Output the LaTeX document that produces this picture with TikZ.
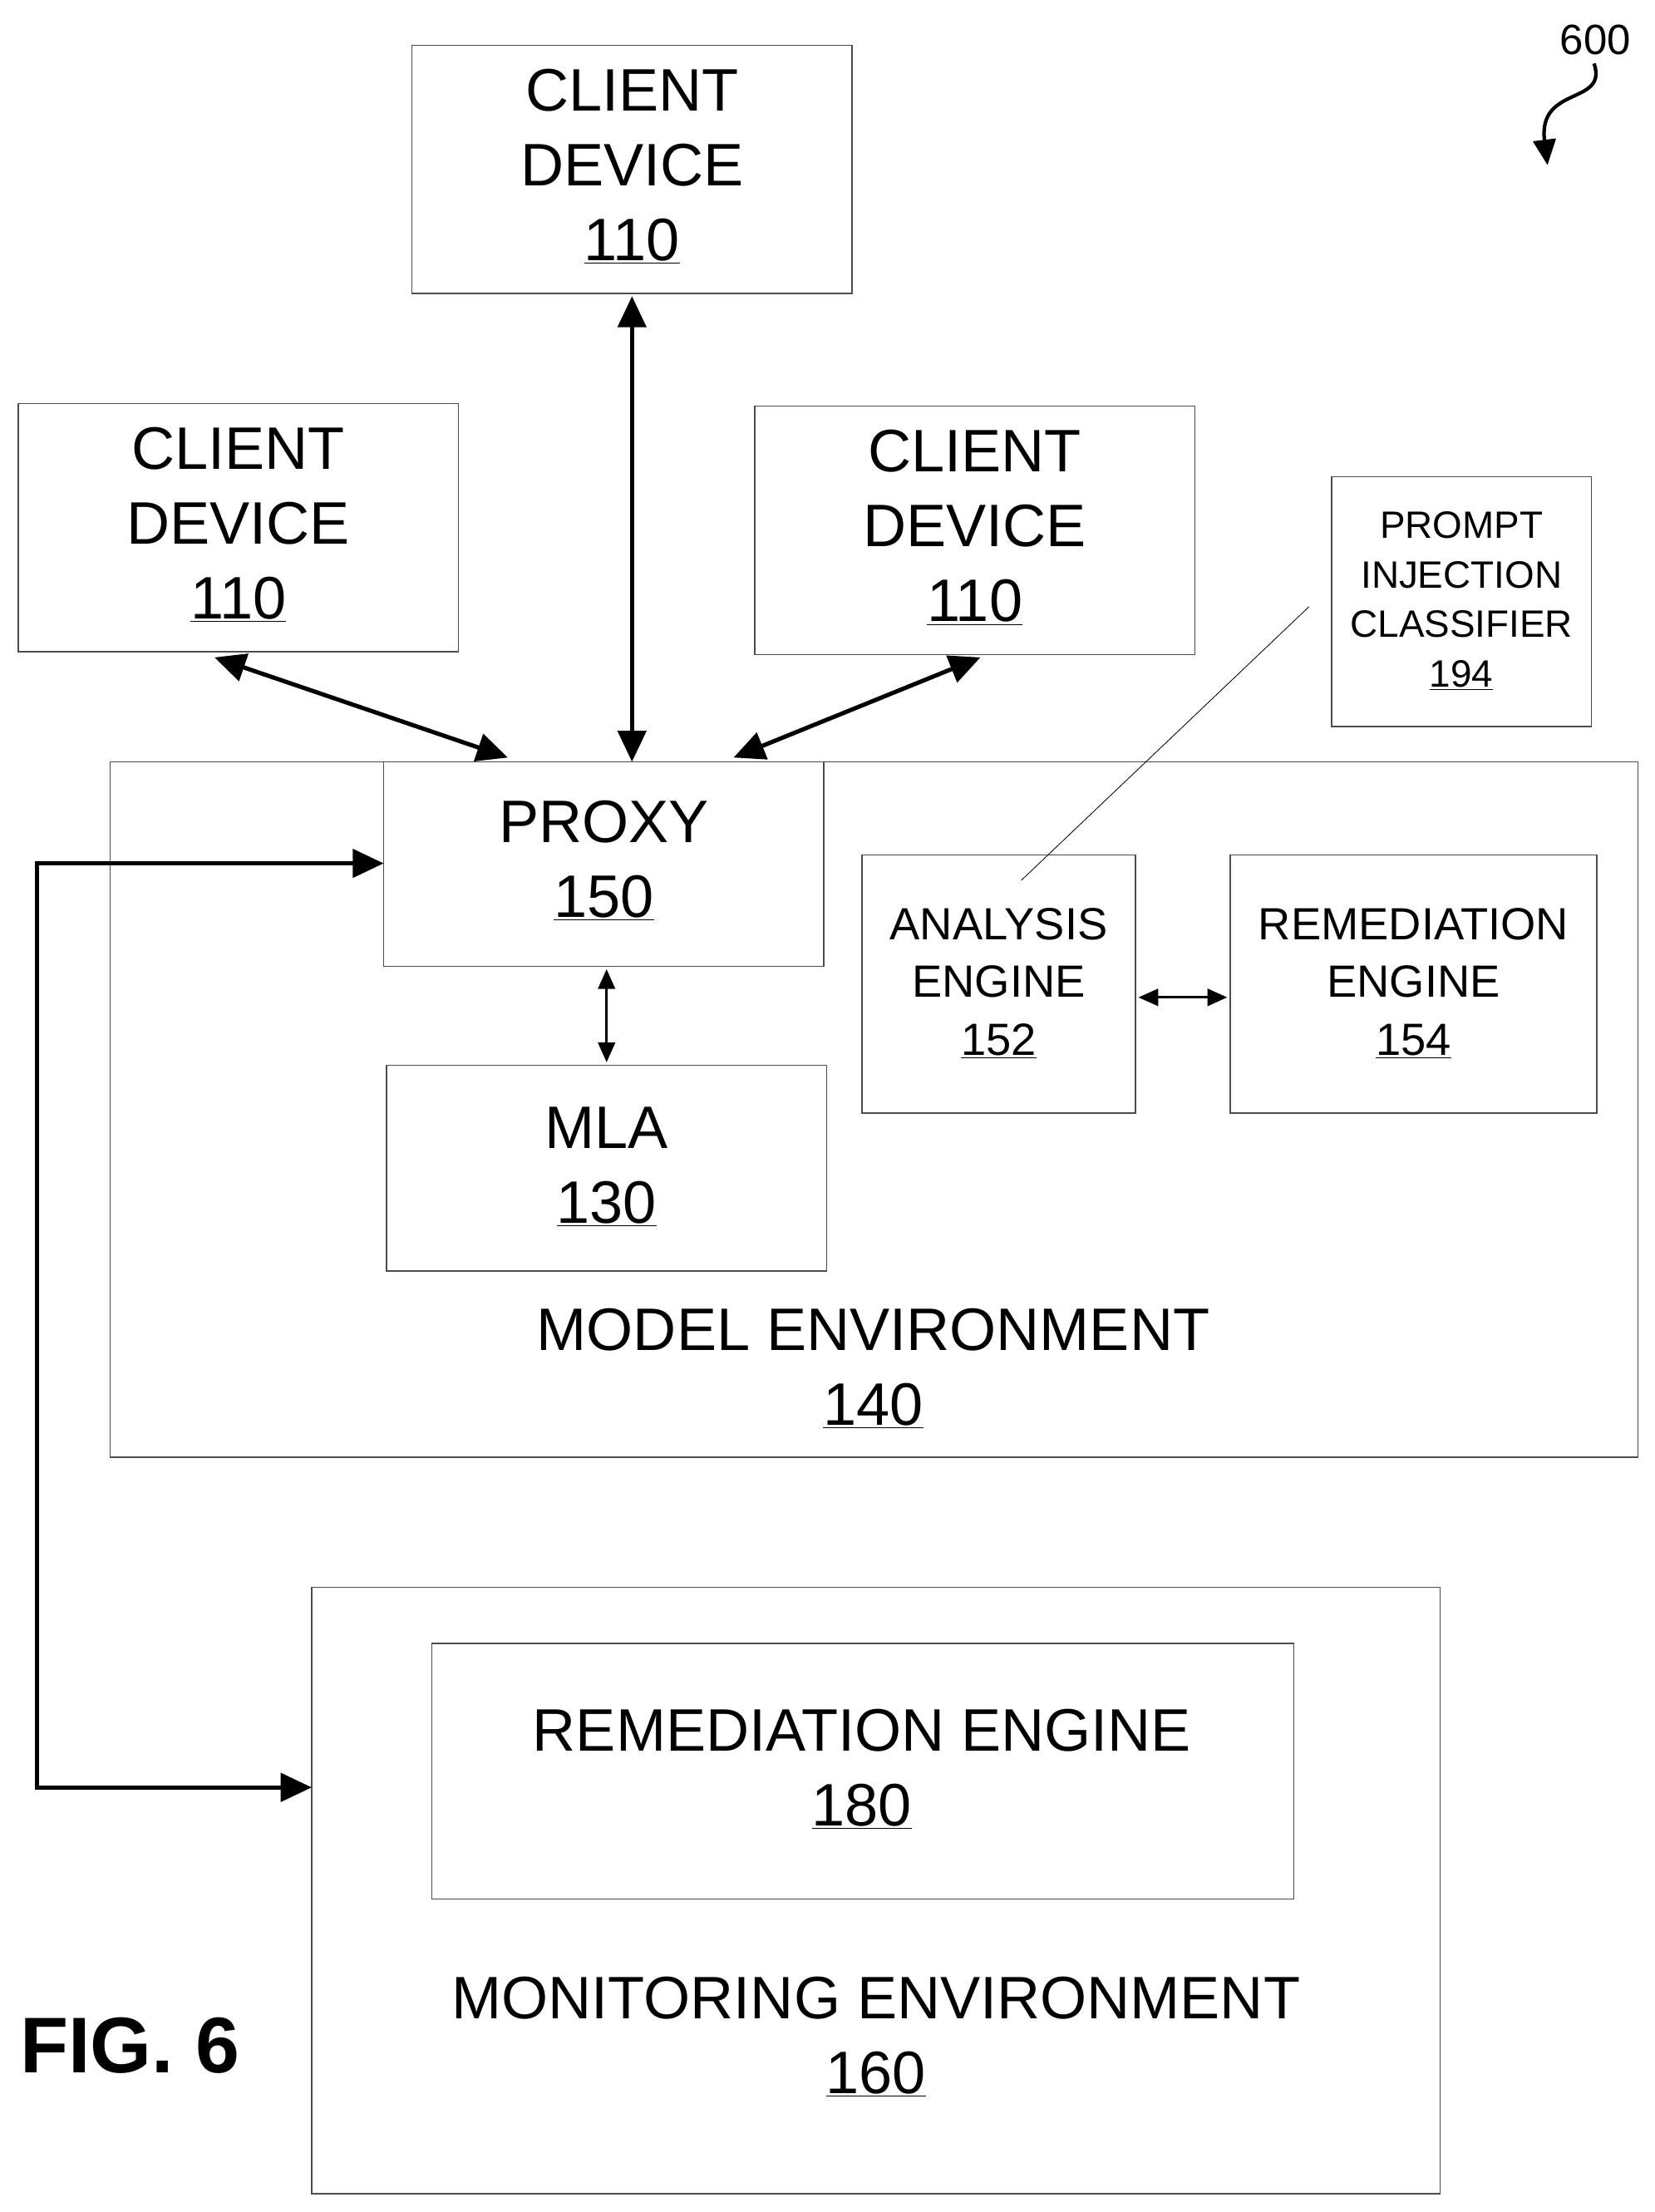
\documentclass[tikz,border=0pt]{standalone}
\usepackage{fontspec}
\setmainfont{Liberation Sans}
\usetikzlibrary{arrows.meta}
\begin{document}
\begin{tikzpicture}[x=1pt,y=-1pt,
 box/.style={draw=black!70,line width=0.8pt},
 big/.style={font=\fontsize{42.5}{53}\selectfont,align=center},
 mid/.style={font=\fontsize{32}{41}\selectfont,align=center},
 sml/.style={font=\fontsize{27}{35}\selectfont,align=center},
 thick arr/.style={line width=3pt,{Triangle[length=22pt,width=20pt]}-{Triangle[length=22pt,width=20pt]}},
 thin arr/.style={line width=1.8pt,{Triangle[length=14pt,width=12pt]}-{Triangle[length=14pt,width=12pt]}}]
\useasboundingbox (0,0) rectangle (1173,1568);
\draw[box] (292,32) rectangle (604,208);
\node[big] (c1) at (448,118) {CLIENT\\DEVICE\\\underline{110}};
\draw[box] (13,286) rectangle (325,462);
\node[big] (c2) at (169,372) {CLIENT\\DEVICE\\\underline{110}};
\draw[box] (535,288) rectangle (847,464);
\node[big] (c3) at (691,374) {CLIENT\\DEVICE\\\underline{110}};
\draw[box] (944,338) rectangle (1128,515);
\node[sml] (pic) at (1036,426) {PROMPT\\INJECTION\\CLASSIFIER\\\underline{194}};
\draw[box] (78,540) rectangle (1161,1033);
\node[big] (me) at (619,970) {MODEL ENVIRONMENT\\\underline{140}};
\draw[box] (272,540) rectangle (584,685);
\node[big] (px) at (428,610) {PROXY\\\underline{150}};
\draw[box] (274,755) rectangle (586,901);
\node[big] (mla) at (430,827) {MLA\\\underline{130}};
\draw[box] (611,606) rectangle (805,789);
\node[mid] (ae) at (708,697) {ANALYSIS\\ENGINE\\\underline{152}};
\draw[box] (872,606) rectangle (1132,789);
\node[mid] (re) at (1002,697) {REMEDIATION\\ENGINE\\\underline{154}};
\draw[box] (221,1125) rectangle (1021,1555);
\node[big] (mon) at (621,1444) {MONITORING ENVIRONMENT\\\underline{160}};
\draw[box] (306,1165) rectangle (917,1346);
\node[big] (r180) at (611,1254) {REMEDIATION ENGINE\\\underline{180}};
\node[font=\fontsize{56}{60}\selectfont\bfseries] (fig) at (92,1450) {FIG. 6};
\node[font=\fontsize{30}{34}\selectfont] (n600) at (1131,28) {600};
\coordinate (sq) at (1130,45);
\coordinate (sqe) at (1097,117);
\draw[line width=2.5pt,-{Triangle[length=18pt,width=16pt]}] (sq) .. controls (1140,75) and (1090,60) .. (sqe);
\coordinate (a1) at (448,210); \coordinate (b1) at (448,540);
\draw[thick arr] (a1) -- (b1);
\coordinate (a2) at (152,466); \coordinate (b2) at (360,537);
\draw[thick arr] (a2) -- (b2);
\coordinate (a3) at (695,466); \coordinate (b3) at (520,537);
\draw[thick arr] (a3) -- (b3);
\coordinate (p1) at (430,687); \coordinate (p2) at (430,753);
\draw[thin arr] (p1) -- (p2);
\coordinate (q1) at (807,707); \coordinate (q2) at (870,707);
\draw[thin arr] (q1) -- (q2);
\coordinate (l1) at (272,612); \coordinate (l2) at (221,1267);
\draw[thick arr] (l1) -- (26,612) -- (26,1267) -- (l2);
\coordinate (t1) at (724,624); \coordinate (t2) at (928,430);
\draw[line width=0.5pt] (t1) -- (t2);
\end{tikzpicture}
\end{document}
